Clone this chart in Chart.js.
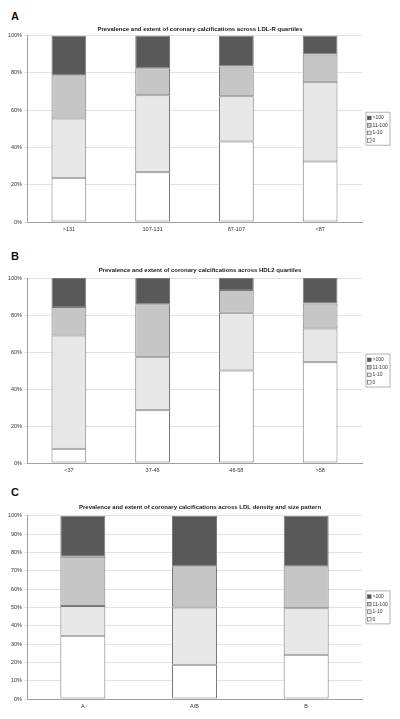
<!DOCTYPE html>
<html>
<head>
<meta charset="utf-8">
<script src="https://cdn.jsdelivr.net/npm/chart.js@4"></script>
<style>
  body { margin: 0; background: #fff; width: 400px; height: 719px; position: relative; overflow: hidden; }
  .letter { position: absolute; left: 11px; font: bold 11px "Liberation Sans", Arial, sans-serif; line-height: 1; color: #111; }
  canvas { position: absolute; left: 0; }
</style>
</head>
<body>
<div class="letter" style="top:11px">A</div>
<canvas id="chartA" width="400" height="214" style="top:24px"></canvas>
<div class="letter" style="top:251px">B</div>
<canvas id="chartB" width="400" height="214" style="top:265px"></canvas>
<div class="letter" style="top:487px">C</div>
<canvas id="chartC" width="400" height="213" style="top:502px"></canvas>
<script>
// calcium score groups, bottom to top
const scoreGroups = ['0', '1-10', '11-100', '>100'];
const groupColors = ['#ffffff', '#e8e8e8', '#c6c6c6', '#595959'];

// A: LDL-R quartiles
const catsA = ['>131', '107-131', '87-107', '<87'];
const zeroA = [23.7, 26.7, 43.2, 32.4];
const lowA = [31.7, 41.2, 24.2, 42.5];
const midA = [23.3, 14.5, 15.9, 14.9];
const highA = [21.3, 17.6, 16.7, 10.2];

// B: HDL2 quartiles
const catsB = ['<37', '37-46', '46-58', '>58'];
const zeroB = [7.7, 28.5, 50.0, 54.5];
const lowB = [61.3, 28.7, 31.2, 18.3];
const midB = [15.4, 28.6, 12.3, 13.4];
const highB = [15.6, 14.2, 6.5, 13.8];

// C: LDL density and size pattern
const catsC = ['A', 'A/B', 'B'];
const zeroC = [34.5, 18.7, 24.1];
const lowC = [16.3, 31.2, 25.5];
const midC = [26.9, 22.6, 22.8];
const highC = [22.3, 27.5, 27.6];

const FONT = '"Liberation Sans", Arial, sans-serif';

// small boxed legend to the right of the plot, top group first
const boxLegend = {
  id: 'boxLegend',
  afterDraw(chart) {
    const { ctx, chartArea } = chart;
    const sets = chart.data.datasets.slice().reverse();
    const rowH = 7.5, w = 24, h = sets.length * rowH + 3;
    const x = chartArea.right + 4;
    const y = (chartArea.top + chartArea.bottom) / 2 - h / 2;
    ctx.save();
    ctx.fillStyle = '#fff';
    ctx.strokeStyle = '#a0a0a0';
    ctx.lineWidth = 0.8;
    ctx.fillRect(x, y, w, h);
    ctx.strokeRect(x, y, w, h);
    ctx.font = '5px ' + FONT;
    ctx.textBaseline = 'middle';
    sets.forEach((ds, i) => {
      const cy = y + 2 + rowH * i + rowH / 2;
      ctx.fillStyle = ds.backgroundColor;
      ctx.fillRect(x + 1.5, cy - 1.8, 3.6, 3.6);
      ctx.strokeStyle = '#555';
      ctx.lineWidth = 0.6;
      ctx.strokeRect(x + 1.5, cy - 1.8, 3.6, 3.6);
      ctx.fillStyle = '#333';
      ctx.fillText(ds.label, x + 6.5, cy);
    });
    ctx.restore();
  }
};

function makeChart(id, title, cats, series, step, barPct, titleGap) {
  new Chart(document.getElementById(id), {
    type: 'bar',
    data: {
      labels: cats,
      datasets: series.map((vals, i) => ({
        label: scoreGroups[i],
        data: vals,
        backgroundColor: groupColors[i],
        borderColor: '#7a7a7a',
        borderWidth: 1,
        borderSkipped: false,
        categoryPercentage: 1,
        barPercentage: barPct
      }))
    },
    options: {
      responsive: false,
      animation: false,
      layout: { padding: { top: 1.4, right: 0, left: 0, bottom: 0 } },
      plugins: {
        legend: { display: false },
        tooltip: { enabled: false },
        title: {
          display: true,
          text: title,
          color: '#222',
          font: { family: FONT, size: 6, weight: 'bold' },
          padding: { top: 0, bottom: titleGap }
        }
      },
      scales: {
        x: {
          stacked: true,
          grid: { display: false, drawTicks: false },
          border: { color: '#a0a0a0' },
          ticks: { color: '#333', font: { family: FONT, size: 5.5 }, padding: 4 },
          afterFit(s) { s.height = 16; }
        },
        y: {
          stacked: true,
          min: 0,
          max: 100,
          grid: { color: '#dadada', lineWidth: 0.8, tickLength: 3 },
          border: { color: '#a0a0a0' },
          ticks: {
            stepSize: step,
            color: '#333',
            padding: 2,
            font: { family: FONT, size: 5.5 },
            callback: v => v + '%'
          },
          afterFit(s) { s.width = 27; }
        },
        // empty right-hand axis that just reserves room for the legend
        room: {
          type: 'linear',
          position: 'right',
          display: true,
          grid: { display: false, drawTicks: false },
          border: { display: false },
          ticks: { display: false },
          afterFit(s) { s.width = 38; }
        }
      }
    },
    plugins: [boxLegend]
  });
}

makeChart('chartA', 'Prevalence and extent of coronary calcifications across LDL-R quartiles',
  catsA, [zeroA, lowA, midA, highA], 20, 0.415, 2.8);
makeChart('chartB', 'Prevalence and extent of coronary calcifications across HDL2 quartiles',
  catsB, [zeroB, lowB, midB, highB], 20, 0.415, 4.5);
makeChart('chartC', 'Prevalence and extent of coronary calcifications across LDL density and size pattern',
  catsC, [zeroC, lowC, midC, highC], 10, 0.403, 5.2);
</script>
</body>
</html>
